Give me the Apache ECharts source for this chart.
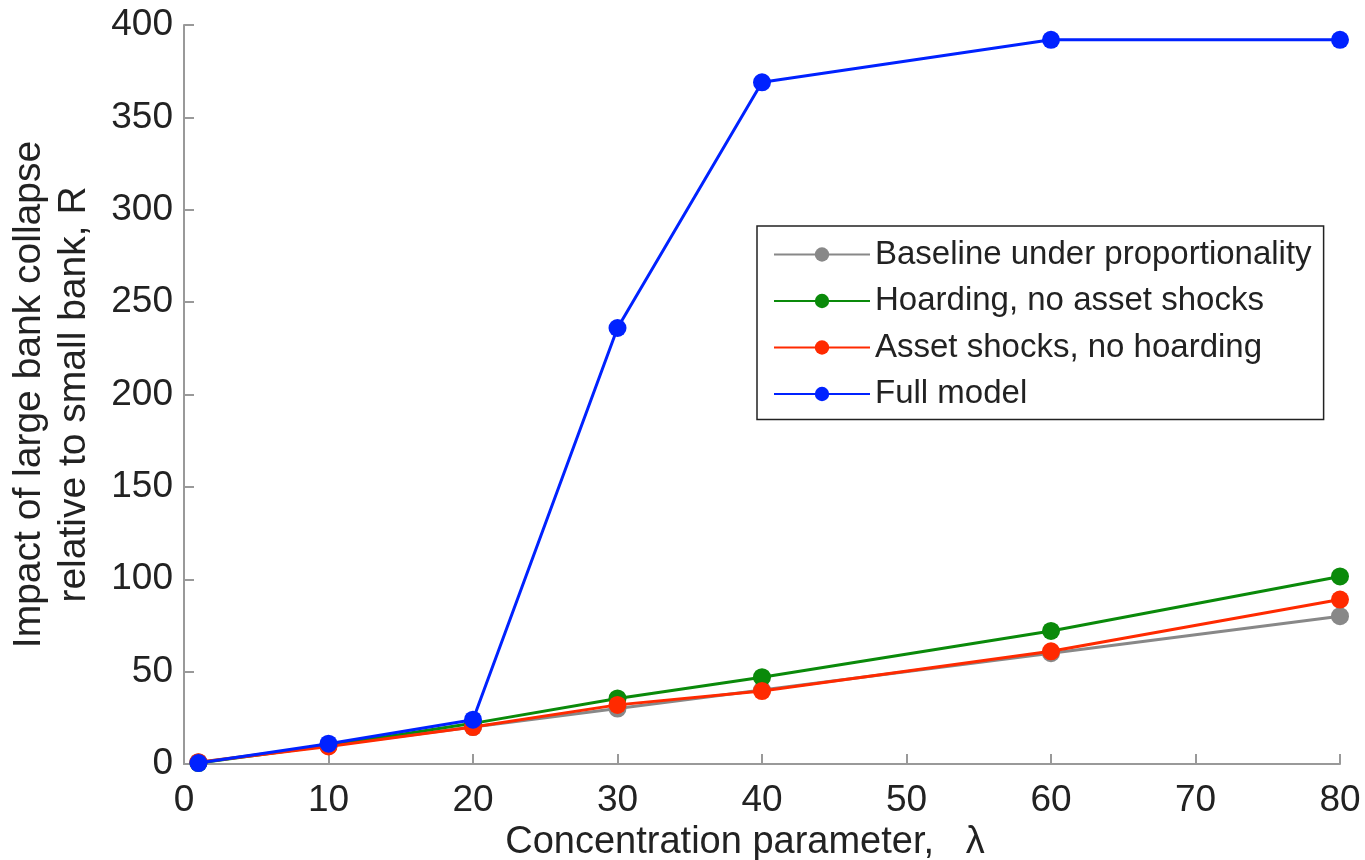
<!DOCTYPE html>
<html>
<head>
<meta charset="utf-8">
<script src="https://cdn.jsdelivr.net/npm/echarts@6/dist/echarts.min.js"></script>
<style>html,body{margin:0;padding:0;background:#fff;}#c{width:1365px;height:860px;}</style>
</head>
<body>
<div id="c"></div>
<script>
const xValues = [1, 10, 20, 30, 40, 60, 80];
const baseline = [1, 10, 20, 30, 40, 60, 80];
const hoarding = [0.5, 10, 22, 35.5, 47, 72, 101.5];
const assetShocks = [1, 9.5, 20, 32, 39.5, 61, 89];
const fullModel = [0.5, 11, 24, 236, 369, 392, 392];
const seriesNames = ['Baseline under proportionality', 'Hoarding, no asset shocks', 'Asset shocks, no hoarding', 'Full model'];
const seriesColors = ['#888888', '#0a8a0a', '#ff2a00', '#0022ff'];
const seriesData = [baseline, hoarding, assetShocks, fullModel];

const font = 'Liberation Sans, Arial, Helvetica, sans-serif';
const chart = echarts.init(document.getElementById('c'));
chart.setOption({
  animation: false,
  backgroundColor: '#fff',
  grid: {left: 184, right: 25, top: 25, bottom: 96, containLabel: false, outerBoundsMode: 'none'},
  legend: {
    orient: 'vertical', left: 757, top: 226,
    backgroundColor: '#fff', borderColor: '#222', borderWidth: 1.5,
    padding: [12, 12, 9, 16],
    itemGap: 13.5, itemWidth: 96, itemHeight: 18,
    textStyle: {fontFamily: font, fontSize: 33, color: '#222'},
    data: seriesNames
  },
  xAxis: {
    type: 'value', min: 0, max: 80, interval: 10,
    name: 'Concentration parameter,   λ', nameLocation: 'middle', nameGap: 57,
    nameTextStyle: {fontFamily: font, fontSize: 38, color: '#222', padding: [0, 34, 0, 0]},
    axisLine: {lineStyle: {color: '#999', width: 2}},
    axisTick: {inside: true, length: 10, lineStyle: {color: '#999', width: 2}},
    axisLabel: {fontFamily: font, fontSize: 37, color: '#222', margin: 18},
    splitLine: {show: false}
  },
  yAxis: {
    type: 'value', min: 0, max: 400, interval: 50,
    name: 'Impact of large bank collapse\nrelative to small bank, R', nameLocation: 'middle', nameGap: 87,
    nameTextStyle: {fontFamily: font, fontSize: 39, color: '#222', lineHeight: 45},
    axisLine: {show: true, lineStyle: {color: '#999', width: 2}},
    axisTick: {show: true, inside: true, length: 10, lineStyle: {color: '#999', width: 2}},
    axisLabel: {fontFamily: font, fontSize: 37, color: '#222', margin: 11},
    splitLine: {show: false}
  },
  series: seriesNames.map((n, i) => ({
    name: n, type: 'line',
    data: xValues.map((x, j) => [x, seriesData[i][j]]),
    symbol: 'circle', symbolSize: 18,
    lineStyle: {color: seriesColors[i], width: 3},
    itemStyle: {color: seriesColors[i]},
    z: 2 + i
  }))
});
</script>
</body>
</html>
